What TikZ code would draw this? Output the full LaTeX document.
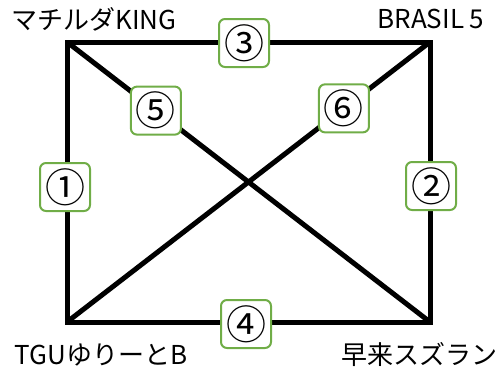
\documentclass[tikz,border=0pt]{standalone}
\usepackage{fontspec}
\newfontfamily\jp{Noto Sans CJK JP}
\usetikzlibrary{calc}
\definecolor{boxgreen}{RGB}{112,173,71}
\begin{document}
\begin{tikzpicture}[x=1pt,y=-1pt,
  edge/.style={line width=5pt, line cap=rect, draw=black},
  diag/.style={line width=5pt, draw=black},
  lbl/.style={draw=boxgreen, line width=2pt, fill=white, rounded corners=6pt,
    minimum width=50pt, minimum height=48pt, inner sep=0pt,
    font=\jp\fontsize{40}{40}\selectfont},
  sitename/.style={font=\jp\fontsize{26}{26}\selectfont, inner sep=0pt}]
\useasboundingbox (0,0) rectangle (497,373);
\coordinate (tl) at (67,42);
\coordinate (tr) at (430,42);
\coordinate (bl) at (67,322);
\coordinate (br) at (430,322);
\draw[edge] (tl) -- (tr);
\draw[edge] (tr) -- (br);
\draw[edge] (br) -- (bl);
\draw[edge] (bl) -- (tl);
\draw[diag] (tl) -- (br);
\draw[diag] (bl) -- (tr);
\node[lbl] (n1) at (65,187) {①};
\node[lbl] (n2) at (431,186) {②};
\node[lbl] (n3) at (244,43) {③};
\node[lbl] (n4) at (246,324) {④};
\node[lbl] (n5) at ($(tl)!0.245!(br)$) {⑤};
\node[lbl] (n6) at ($(bl)!0.763!(tr)$) {⑥};
\node[sitename] (a) at (94,19) {マチルダKING};
\node[sitename] (b) at (431,19) {BRASIL 5};
\node[sitename] (c) at (101,355) {TGUゆりーとB};
\node[sitename] (d) at (419,354) {早来スズラン};
\end{tikzpicture}
\end{document}
